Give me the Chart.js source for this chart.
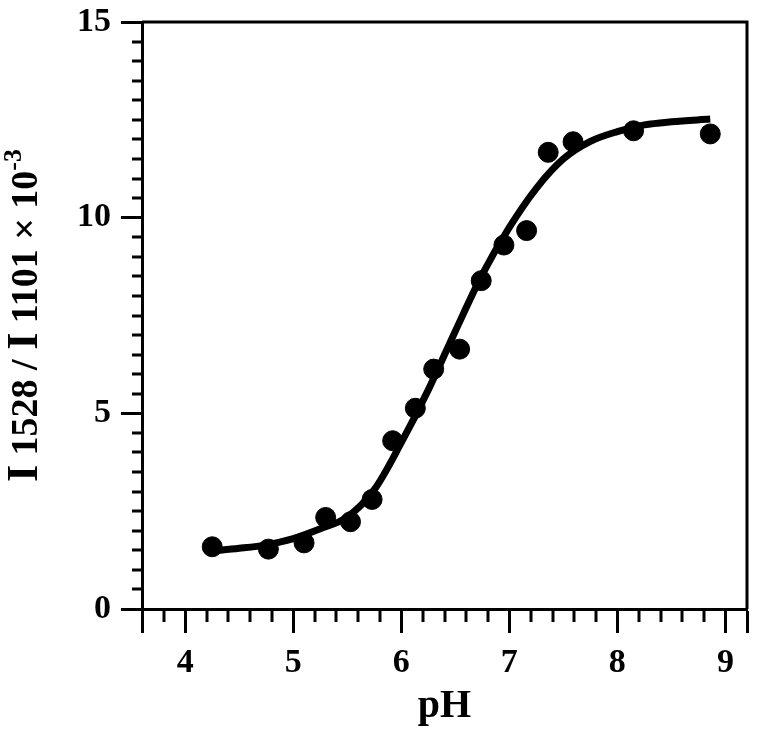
<!DOCTYPE html>
<html>
<head>
<meta charset="utf-8">
<script src="https://cdn.jsdelivr.net/npm/chart.js@4.4.1/dist/chart.umd.min.js"></script>
<style>
  html, body { margin: 0; padding: 0; background: #fff; }
  canvas { display: block; }
</style>
</head>
<body>
<canvas id="phChart" width="758" height="733"></canvas>
<script>
// measured points
const phMedido = [4.25, 4.77, 5.10, 5.30, 5.53, 5.73, 5.92, 6.13, 6.30, 6.54, 6.74, 6.95, 7.16, 7.36, 7.59, 8.15, 8.86];
const razaoMedida = [1.59, 1.53, 1.69, 2.34, 2.23, 2.80, 4.30, 5.13, 6.13, 6.64, 8.39, 9.30, 9.67, 11.67, 11.94, 12.22, 12.14];

// fitted curve
const phCurva = [4.24, 4.5, 4.75, 5.0, 5.25, 5.5, 5.75, 6.0, 6.25, 6.5, 6.75, 7.0, 7.25, 7.5, 7.75, 8.0, 8.25, 8.5, 8.86];
const razaoCurva = [1.48, 1.55, 1.64, 1.80, 2.05, 2.35, 3.05, 4.25, 5.6, 7.1, 8.55, 9.75, 10.75, 11.5, 11.95, 12.2, 12.37, 12.45, 12.52];

const ticksX = [4, 5, 6, 7, 8, 9];
const ticksY = [0, 5, 10, 15];
const tituloX = "pH";
// y title pieces: [text, font size, superscript]
const tituloY = [["I", 44, false], [" 1528 / ", 38, false], ["I", 44, false], [" 1101 \u00d7 10", 38, false], ["-3", 26, true]];

const fonte = "'Liberation Serif', 'Times New Roman', serif";

// minor ticks + box around the plot + rotated y title
const eixosExtras = {
  id: "eixosExtras",
  afterDraw(chart) {
    const ctx = chart.ctx;
    const { left, right, top, bottom } = chart.chartArea;
    const sx = chart.scales.x;
    const sy = chart.scales.y;
    ctx.save();
    ctx.strokeStyle = "#000";
    ctx.lineWidth = 3;
    ctx.lineCap = "butt";

    // top and right border
    ctx.beginPath();
    ctx.moveTo(left, top);
    ctx.lineTo(right, top);
    ctx.lineTo(right, bottom);
    ctx.stroke();

    ctx.beginPath();
    for (let i = 19; i <= 45; i++) {
      const v = i / 5;
      if (Number.isInteger(v)) continue;
      const px = Math.round(sx.getPixelForValue(v));
      ctx.moveTo(px, bottom);
      ctx.lineTo(px, bottom + 13);
    }
    for (let i = 1; i < 30; i++) {
      const v = i / 2;
      if (v % 5 === 0) continue;
      const py = Math.round(sy.getPixelForValue(v));
      ctx.moveTo(left, py);
      ctx.lineTo(left - 10, py);
    }
    ctx.stroke();

    // y axis title
    ctx.fillStyle = "#000";
    ctx.textBaseline = "alphabetic";
    let total = 0;
    tituloY.forEach(([t, s]) => {
      ctx.font = `bold ${s}px ${fonte}`;
      total += ctx.measureText(t).width;
    });
    ctx.translate(23, (top + bottom) / 2);
    ctx.rotate(-Math.PI / 2);
    let pos = -total / 2;
    tituloY.forEach(([t, s, sup]) => {
      ctx.font = `bold ${s}px ${fonte}`;
      ctx.fillText(t, pos, sup ? -2 : 14);
      pos += ctx.measureText(t).width;
    });
    ctx.restore();
  },
};

const ctx = document.getElementById("phChart").getContext("2d");

new Chart(ctx, {
  type: "scatter",
  data: {
    datasets: [
      {
        label: "curva",
        type: "line",
        data: phCurva.map((x, i) => ({ x, y: razaoCurva[i] })),
        borderColor: "#000",
        borderWidth: 7,
        borderCapStyle: "butt",
        cubicInterpolationMode: "monotone",
        pointRadius: 0,
        fill: false,
      },
      {
        label: "medido",
        data: phMedido.map((x, i) => ({ x, y: razaoMedida[i] })),
        backgroundColor: "#000",
        borderColor: "#000",
        pointRadius: 10,
        pointHoverRadius: 10,
      },
    ],
  },
  options: {
    responsive: false,
    animation: false,
    layout: { padding: { left: 0, top: 22, right: 10, bottom: 0 } },
    plugins: {
      legend: { display: false },
      tooltip: { enabled: false },
    },
    scales: {
      x: {
        type: "linear",
        min: 3.6,
        max: 9.2,
        afterFit: (s) => { s.height = 124; s.paddingRight = 0; },
        // bounds + integer ticks only
        afterBuildTicks: (s) => { s.ticks = [3.6, ...ticksX, 9.2].map((v) => ({ value: v })); },
        border: { display: true, color: "#000", width: 3 },
        grid: { drawOnChartArea: false, color: "#000", tickLength: 24, tickWidth: 3, tickColor: "#000" },
        ticks: {
          color: "#000",
          padding: 10,
          maxRotation: 0,
          autoSkip: false,
          font: { family: fonte, size: 34, weight: "bold" },
          callback: (v) => (ticksX.includes(v) ? v : ""),
        },
        title: {
          display: true,
          text: tituloX,
          color: "#000",
          font: { family: fonte, size: 40, weight: "bold" },
          padding: { top: 0, bottom: 2 },
        },
      },
      y: {
        type: "linear",
        min: 0,
        max: 15,
        afterFit: (s) => { s.width = 142; s.paddingTop = 0; },
        afterBuildTicks: (s) => { s.ticks = ticksY.map((v) => ({ value: v })); },
        border: { display: true, color: "#000", width: 3 },
        grid: { drawOnChartArea: false, color: "#000", tickLength: 21, tickWidth: 3, tickColor: "#000" },
        ticks: {
          color: "#000",
          padding: 10,
          font: { family: fonte, size: 34, weight: "bold" },
        },
      },
    },
  },
  plugins: [eixosExtras],
});
</script>
</body>
</html>
